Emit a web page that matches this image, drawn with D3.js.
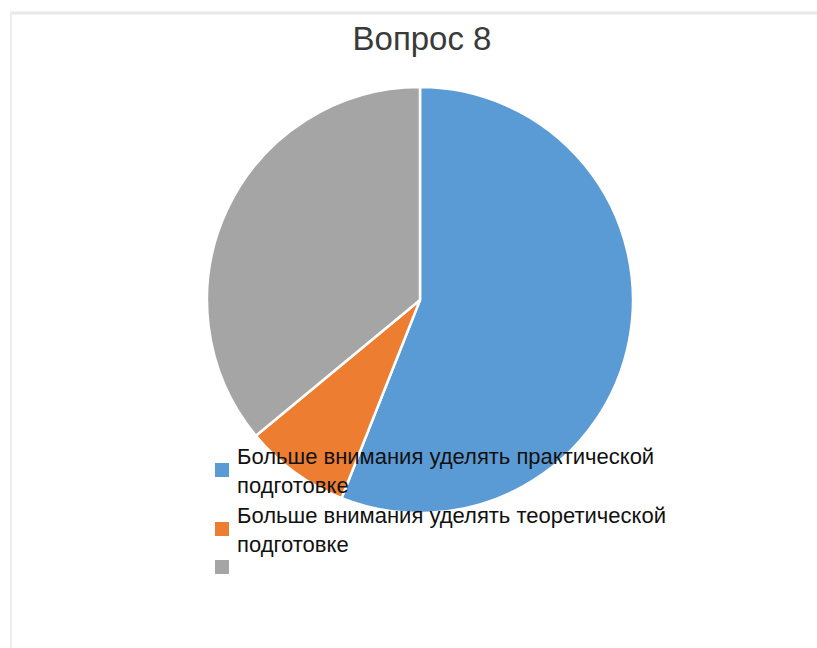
<!DOCTYPE html>
<html>
<head>
<meta charset="utf-8">
<script src="https://cdn.jsdelivr.net/npm/d3@7"></script>
<style>
  body { margin: 0; background: #fff; }
  text { font-family: "Liberation Sans", Arial, sans-serif; }
</style>
</head>
<body>
<div id="chart"></div>
<script>
// chart data
var title = "Вопрос 8";
var categories = [
    "Больше внимания уделять практической подготовке",
    "Больше внимания уделять теоретической подготовке",
    ""
];
var legendLines = [
    ["Больше внимания уделять практической", "подготовке"],
    ["Больше внимания уделять теоретической", "подготовке"],
    [""]
];
var values = [14, 2, 9];
var colors = ["#5B9BD5", "#ED7D31", "#A5A5A5"];

var svgWidth = 817;
var svgHeight = 648;

var svg = d3.select("#chart")
    .append("svg")
    .attr("width", svgWidth)
    .attr("height", svgHeight);

// light frame (top and left edges only visible)
svg.append("line")
    .attr("x1", 10).attr("y1", 13).attr("x2", svgWidth).attr("y2", 13)
    .attr("stroke", "#e8e8e8").attr("stroke-width", 3);
svg.append("line")
    .attr("x1", 11).attr("y1", 12).attr("x2", 11).attr("y2", svgHeight)
    .attr("stroke", "#ececec").attr("stroke-width", 2);

// title
svg.append("text")
    .attr("x", 422)
    .attr("y", 50)
    .attr("text-anchor", "middle")
    .attr("font-size", "33px")
    .attr("fill", "#3a3a3a")
    .text(title);

// pie
var radius = 213;
var pieGroup = svg.append("g")
    .attr("transform", "translate(420, 300)");

var pie = d3.pie().sort(null).value(d => d);
var arc = d3.arc().innerRadius(0).outerRadius(radius);
var color = d3.scaleOrdinal().domain(d3.range(values.length)).range(colors);

pieGroup.selectAll("path")
    .data(pie(values))
    .enter()
    .append("path")
    .attr("d", arc)
    .attr("fill", (d, i) => color(i))
    .attr("stroke", "#fff")
    .attr("stroke-width", 2.5)
    .attr("stroke-linejoin", "round");

// legend, drawn over the pie
var legendBaselines = [464, 523, 561];
var lineHeight = 29;
var legend = svg.append("g");

var entries = legend.selectAll("g")
    .data(categories)
    .enter()
    .append("g")
    .attr("transform", (d, i) => `translate(215, ${legendBaselines[i]})`);

entries.append("rect")
    .attr("x", 0)
    .attr("y", -1)
    .attr("width", 14)
    .attr("height", 14)
    .attr("fill", (d, i) => color(i));

entries.each(function(d, i) {
    var t = d3.select(this).append("text")
        .attr("x", 22)
        .attr("y", 0)
        .attr("font-size", "22px")
        .attr("fill", "#111");
    legendLines[i].forEach(function(line, j) {
        t.append("tspan")
            .attr("x", 22)
            .attr("y", j * lineHeight)
            .text(line);
    });
});
</script>
</body>
</html>
